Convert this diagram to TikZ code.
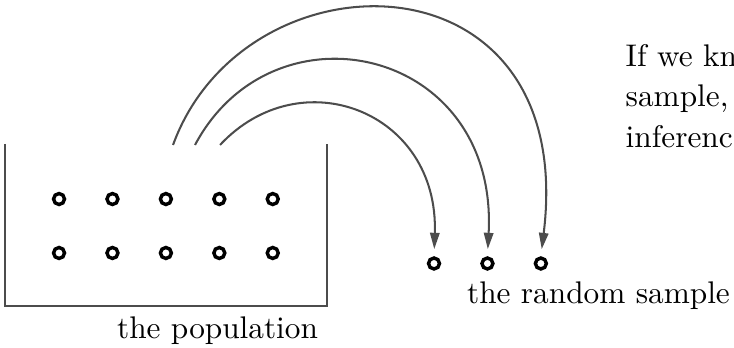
\documentclass[tikz,border=0pt]{standalone}
\usepackage{tikz}
\usetikzlibrary{arrows.meta,positioning,calc}

\begin{document}
\begin{tikzpicture}[
  ball/.style={circle,draw=black,line width=1.1pt,inner sep=0pt,
               minimum size=3.5pt},
  wall/.style={black!70,line width=0.65pt},
  arr/.style={-{Triangle[length=5.2pt,width=3pt]},black!70,
              line width=0.65pt,shorten >=2.3pt},
  lbl/.style={anchor=base,inner sep=0pt,font=\normalsize}]
%% ── Frame of the picture (right text runs off the edge) ─────────────────
\clip (0,0) rectangle (8.243,3.908);
\useasboundingbox (0,0) rectangle (8.243,3.908);
%% ── The population: an open box with two rows of balls ───────────────────
\draw[wall] (0.056,2.291) -- (0.056,0.472) -- (3.672,0.472) -- (3.672,2.291);
\foreach \i in {1,...,5}{
  \node[ball](pa\i) at ({0.663+0.6*(\i-1)},1.673) {};
  \node[ball](pb\i) at ({0.663+0.6*(\i-1)},1.067) {};
}
\node[lbl](poplbl) at (2.443,0.112) {the population};
%% ── The random sample ────────────────────────────────────────────────────
\foreach \i in {1,2,3}
  \node[ball](s\i) at ({4.874+0.6*(\i-1)},0.949) {};
\node[lbl](smplbl) at (6.721,0.505) {the random sample};
%% ── Draws: from inside the box over the wall to each sample ball ─────────
\coordinate (a1) at (1.943,2.28);
\coordinate (a2) at (2.190,2.28);
\coordinate (a3) at (2.471,2.28);
\draw[arr] (a1) .. controls +(70:2.36) and +(83:3.5) .. (s3.north);
\draw[arr] (a2) .. controls +(62:1.87) and +(87:2.36) .. (s2.north);
\draw[arr] (a3) .. controls +(47:1.33) and +(88:1.63) .. (s1.north);
%% ── Running text at the right ────────────────────────────────────────────
\node[anchor=base west,inner sep=0pt,align=left,
      font=\fontsize{10}{13}\selectfont](txt) at (7.02,2.25)
  {If we kn\\sample,\\inferenc};
\end{tikzpicture}
\end{document}
